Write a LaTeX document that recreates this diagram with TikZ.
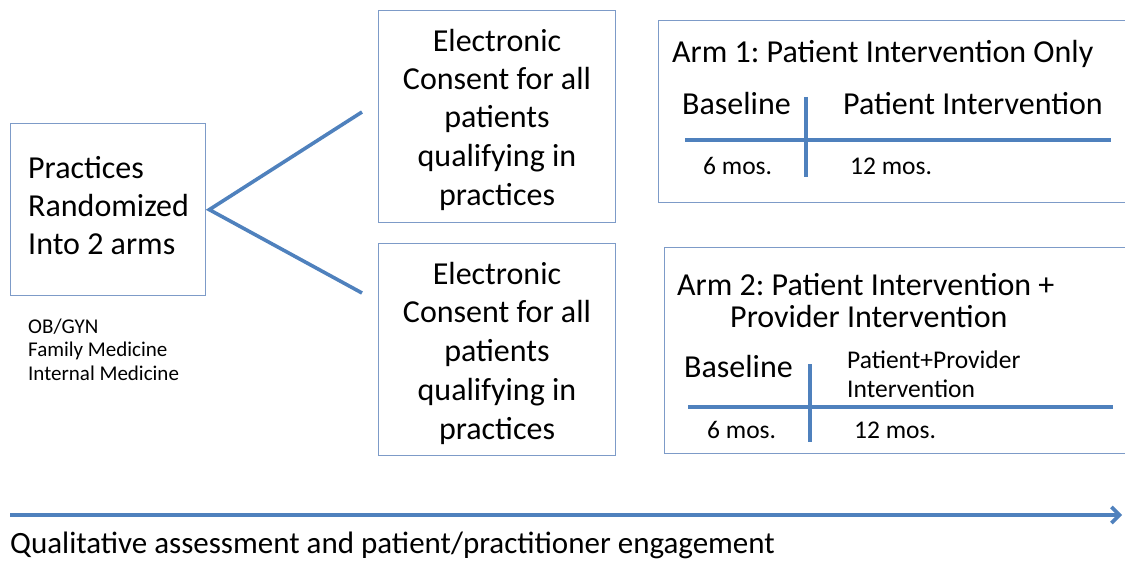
\documentclass[tikz,border=0pt]{standalone}
\usepackage{fontspec}
\setmainfont{Carlito}
\usetikzlibrary{arrows.meta}
\definecolor{boxblue}{RGB}{125,155,200}
\definecolor{lineblue}{RGB}{79,129,189}
\tikzset{
  box/.style={draw=boxblue, line width=1.3pt, inner sep=0pt, anchor=north west},
  conn/.style={draw=lineblue, line width=3.6pt},
  big/.style={inner sep=0pt, font=\fontsize{32}{38}\selectfont},
  mid/.style={inner sep=0pt, font=\fontsize{25.5}{30}\selectfont},
  small/.style={inner sep=0pt, font=\fontsize{21}{24}\selectfont},
}
\frenchspacing
\begin{document}
\begin{tikzpicture}[x=1pt,y=-1pt]
\useasboundingbox (0,0) rectangle (1125,564);
\clip (0,0) rectangle (1125,564);
% left box
\node[box, minimum width=195pt, minimum height=172pt] (prac) at (10,123) {};
\node[big, anchor=base west] (p1) at (28,179) {Practices};
\node[big, anchor=base west] (p2) at (28,217) {Randomized};
\node[big, anchor=base west] (p3) at (28,255) {Into 2 arms};
\node[small, anchor=base west] (s1) at (28,333) {OB/GYN};
\node[small, anchor=base west] (s2) at (28,356) {Family Medicine};
\node[small, anchor=base west] (s3) at (28,380) {Internal Medicine};
% consent boxes
\node[box, minimum width=237pt, minimum height=212pt] (cons1) at (378,10) {};
\node[box, minimum width=237pt, minimum height=212pt] (cons2) at (378,243) {};
\foreach \b/\o in {a/0, b/233}{
  \node[big, anchor=base] (\b1) at (497,52+\o) {Electronic};
  \node[big, anchor=base] (\b2) at (497,90+\o) {Consent for all};
  \node[big, anchor=base] (\b3) at (497,128+\o) {patients};
  \node[big, anchor=base] (\b4) at (497,167+\o) {qualifying in};
  \node[big, anchor=base] (\b5) at (497,206+\o) {practices};
}
% connectors
\coordinate (split) at ([xshift=3pt]prac.east);
\coordinate (c1) at (362,112);
\coordinate (c2) at (362,293);
\draw[conn] (c1) -- (split) -- (c2);
% arm 1
\node[box, minimum width=480pt, minimum height=182pt] (arm1) at (658,20) {};
\node[big, anchor=base west] (t1) at (672,63) {Arm 1: Patient Intervention Only};
\node[big, anchor=base west] (bl1) at (682,115) {Baseline};
\node[big, anchor=base west] (pi1) at (843,115) {Patient Intervention};
\node[mid, anchor=base west] (m61) at (703,175) {6 mos.};
\node[mid, anchor=base west] (m121) at (850,175) {12 mos.};
\coordinate (h1a) at (685,140);
\coordinate (h1b) at (1111,140);
\coordinate (v1a) at (806,97);
\coordinate (v1b) at (806,177);
\draw[conn] (h1a) -- (h1b);
\draw[conn] (v1a) -- (v1b);
% arm 2
\node[box, minimum width=480pt, minimum height=206pt] (arm2) at (664,247) {};
\node[big, anchor=base west] (t2) at (677,295) {Arm 2: Patient Intervention +};
\node[big, anchor=base west] (t2b) at (730,327) {Provider Intervention};
\node[big, anchor=base west] (bl2) at (684,377) {Baseline};
\node[mid, anchor=base west] (pp1) at (847,368) {Patient+Provider};
\node[mid, anchor=base west] (pp2) at (847,397) {Intervention};
\node[mid, anchor=base west] (m62) at (707,438) {6 mos.};
\node[mid, anchor=base west] (m122) at (854,438) {12 mos.};
\coordinate (h2a) at (688,407);
\coordinate (h2b) at (1113,407);
\coordinate (v2a) at (810,364);
\coordinate (v2b) at (810,442);
\draw[conn] (h2a) -- (h2b);
\draw[conn] (v2a) -- (v2b);
% bottom arrow
\coordinate (ta) at (10,515);
\coordinate (tb) at (1122,515);
\draw[conn, -{Straight Barb[length=8pt,width=16pt]}] (ta) -- (tb);
\node[big, font=\fontsize{31}{36}\selectfont, anchor=base west] (qual) at (10,553) {Qualitative assessment and patient/practitioner engagement};
\end{tikzpicture}
\end{document}
